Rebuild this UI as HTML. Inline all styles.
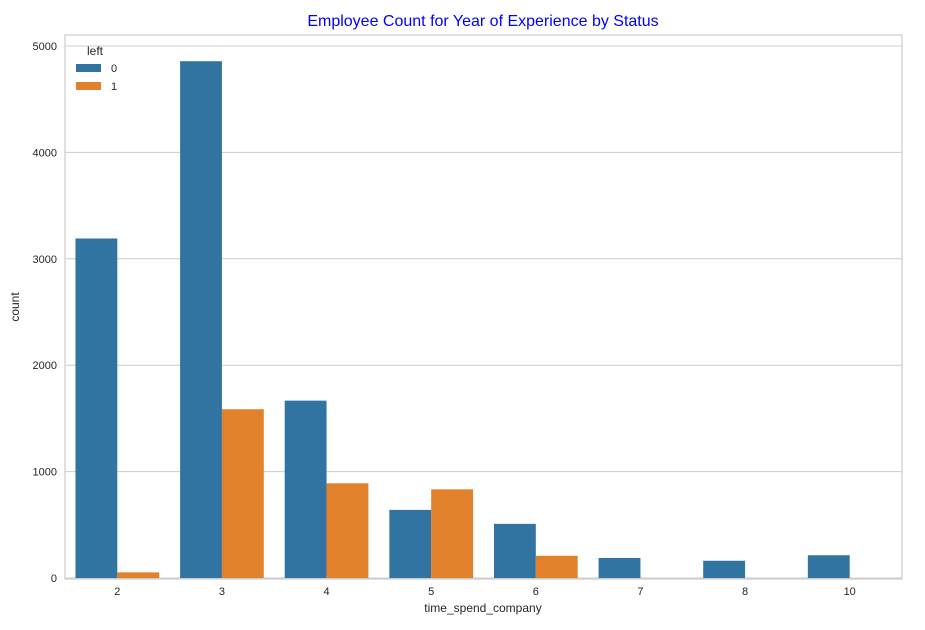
<!DOCTYPE html>
<html><head><meta charset="utf-8"><style>
body{margin:0;background:#fff;width:925px;height:625px;overflow:hidden;font-family:"Liberation Sans",sans-serif}
</style></head><body>
<svg id="chart" width="925" height="625" xmlns="http://www.w3.org/2000/svg" font-family="Liberation Sans, sans-serif">
<text x="483" y="26" text-anchor="middle" font-size="16" fill="#0000ff">Employee Count for Year of Experience by Status</text>
<g id="grid"></g><g id="bars"></g><g id="ticks"></g>
<rect x="65" y="35" width="837" height="544" fill="none" stroke="#cccccc" stroke-width="1.2"/>
<text x="483" y="612" text-anchor="middle" font-size="12" fill="#262626">time_spend_company</text>
<text transform="translate(19,307) rotate(-90)" text-anchor="middle" font-size="12" fill="#262626">count</text>
<g>
<text x="87" y="55" font-size="12" fill="#262626">left</text>
<rect x="76" y="64" width="25" height="8" fill="#3274a1"/>
<text x="111" y="72" font-size="11" fill="#262626">0</text>
<rect x="76" y="82" width="25" height="8" fill="#e1812c"/>
<text x="111" y="90" font-size="11" fill="#262626">1</text>
</g>
</svg>
<script>
const categories=["2","3","4","5","6","7","8","10"];
const stayed=[3191,4857,1667,640,509,188,162,214];
const left1=[53,1586,890,833,209,0,0,0];
const yTicks=[0,1000,2000,3000,4000,5000];
const NS="http://www.w3.org/2000/svg";
const x0=65,x1=902,yb=578,pxPer=106.4/1000;
const y=v=>yb-v*pxPer;
const band=(x1-x0)/categories.length;
const xc=i=>x0+band*(i+0.5);
const bw=band*0.4;
function mk(tag,attrs,parent){const e=document.createElementNS(NS,tag);for(const k in attrs)e.setAttribute(k,attrs[k]);parent.appendChild(e);return e;}
const grid=document.getElementById('grid'),bars=document.getElementById('bars'),ticks=document.getElementById('ticks');
yTicks.forEach(t=>{
 const l=mk('line',{x1:x0,x2:x1,y1:y(t),y2:y(t),stroke:'#cccccc','stroke-width':1},grid);
 
 
 const tx=mk('text',{x:x0-8,y:y(t)+4,'text-anchor':'end','font-size':11,fill:'#262626'},ticks);
 tx.textContent=t;
 
 
});
categories.forEach((c,i)=>{
 const r0=mk('rect',{x:xc(i)-bw,y:y(stayed[i]),width:bw,height:stayed[i]*pxPer,fill:'#3274a1'},bars);
 
 
 const r1=mk('rect',{x:xc(i),y:y(left1[i]),width:bw,height:left1[i]*pxPer,fill:'#e1812c'},bars);
 
 
 const tx=mk('text',{x:xc(i),y:yb+17,'text-anchor':'middle','font-size':11,fill:'#262626'},ticks);
 tx.textContent=c;
 
 
});
</script>
</body></html>
